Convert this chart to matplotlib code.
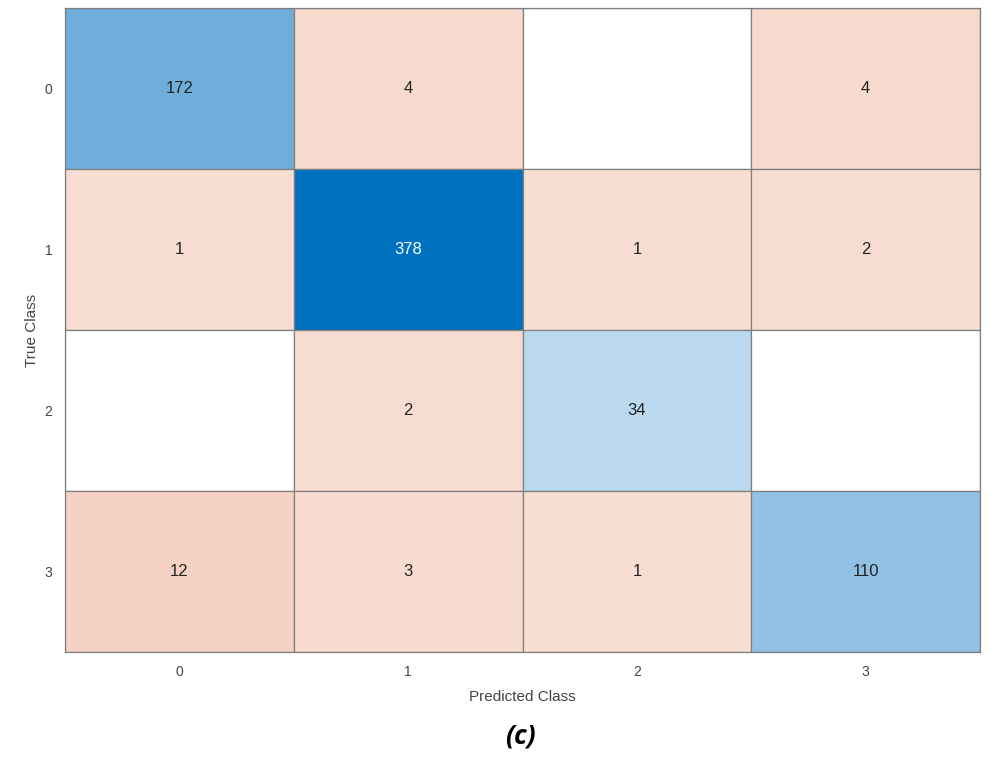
import numpy as np
import matplotlib
matplotlib.use("Agg")
import matplotlib.pyplot as plt
from matplotlib.patches import Rectangle

classes = ["0", "1", "2", "3"]
conf = [
    [172, 4, 0, 4],
    [1, 378, 1, 2],
    [0, 2, 34, 0],
    [12, 3, 1, 110],
]

M = np.array(conf)
vmax = M.max()
blue = np.array([0, 112, 192]) / 255.0
orange = np.array([217, 83, 25]) / 255.0
white = np.ones(3)

fig = plt.figure(figsize=(9.9, 7.62), dpi=100)
ax = fig.add_axes([65 / 990, 110 / 762, 915 / 990, 644 / 762])
n = len(classes)
for i in range(n):
    for j in range(n):
        v = M[i, j]
        if v == 0:
            col = white
        else:
            a = 0.2 + 0.8 * v / vmax
            if i != j:
                a = 0.19 + 2.2 * v / vmax
            base = blue if i == j else orange
            col = white + (base - white) * a
        ax.add_patch(Rectangle((j - 0.5, i - 0.5), 1, 1, facecolor=col,
                               edgecolor="#7f7f7f", linewidth=0.9))
        if v != 0:
            tc = "white" if (i == j and v / vmax > 0.8) else "#222222"
            ax.text(j, i, str(v), ha="center", va="center", fontsize=12,
                    color=tc, family="Liberation Sans")

ax.set_xlim(-0.5, n - 0.5)
ax.set_ylim(n - 0.5, -0.5)
ax.set_xticks(range(n))
ax.set_yticks(range(n))
ax.set_xticklabels(classes, fontsize=10, color="#444444", family="Liberation Sans")
ax.set_yticklabels(classes, fontsize=10, color="#444444", family="Liberation Sans")
ax.tick_params(axis="x", length=0, pad=9)
ax.tick_params(axis="y", length=0, pad=9)
for s in ax.spines.values():
    s.set_color("#7f7f7f")
    s.set_linewidth(0.9)
ax.set_xlabel("Predicted Class", fontsize=11, color="#444444", family="Liberation Sans", labelpad=8)
ax.set_ylabel("True Class", fontsize=11, color="#444444", family="Liberation Sans", labelpad=4)
fig.text(520 / 990, 1 - 736 / 762, "(c)", ha="center", va="center", fontsize=19,
         fontweight="bold", fontstyle="italic", family=["Open Sans", "DejaVu Sans"], color="black")

fig.savefig("out.png", dpi=100, facecolor="white")
